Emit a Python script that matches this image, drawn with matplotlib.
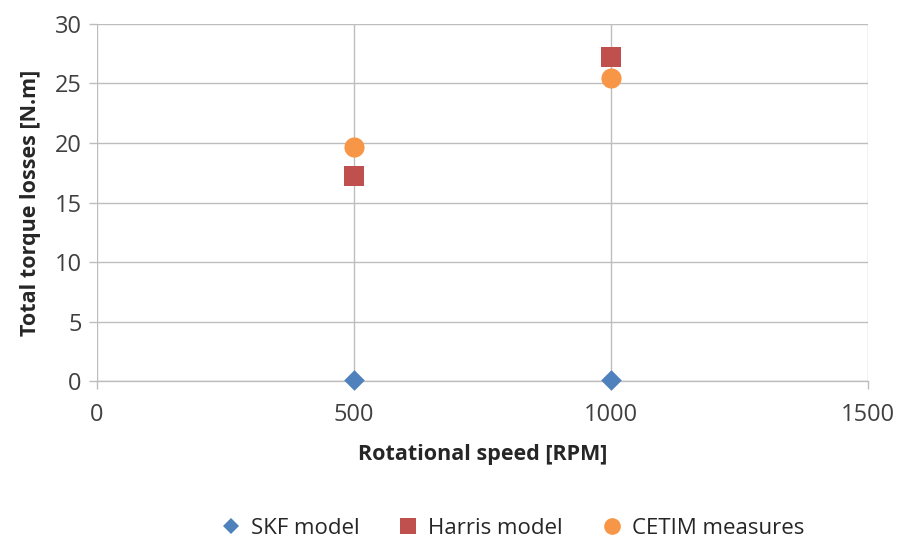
import matplotlib
matplotlib.use("Agg")
import matplotlib.pyplot as plt
from matplotlib.lines import Line2D

plt.rcParams['font.family'] = ['Open Sans', 'DejaVu Sans']

# Data
vitesse = [500, 1000]
skf = [0.05, 0.05]
harris = [17.2, 27.2]
cetim = [19.7, 25.5]

xTicks = [0, 500, 1000, 1500]
yTicks = [0, 5, 10, 15, 20, 25, 30]

corGrid = '#BDBDBD'

fig = plt.figure(figsize=(8.98, 5.40), dpi=100)
ax = fig.add_axes([0.108, 0.2944, 0.8586, 0.6612])

ax.scatter(vitesse, skf, marker='D', s=10.5**2, color='#4F81BD', zorder=3, label='SKF model', linewidths=0, clip_on=False)
ax.scatter(vitesse, harris, marker='s', s=15**2, color='#C0504D', zorder=3, label='Harris model', linewidths=0, clip_on=False)
ax.scatter(vitesse, cetim, marker='o', s=14.5**2, color='#F79646', zorder=4, label='CETIM measures', linewidths=0, clip_on=False)

ax.set_xlim(0, 1500)
ax.set_ylim(0, 30)
ax.set_xticks(xTicks)
ax.set_yticks(yTicks)
ax.grid(True, color=corGrid, linewidth=1)
ax.set_axisbelow(True)

for lado in ['top', 'right', 'left']:
    ax.spines[lado].set_visible(False)
ax.spines['bottom'].set_color(corGrid)
ax.spines['bottom'].set_linewidth(1)
ax.tick_params(axis='both', colors=corGrid, length=6, width=1, labelsize=17, labelcolor='#404040')
ax.tick_params(axis='x', pad=10)
ax.tick_params(axis='y', pad=5)

ax.set_xlabel('Rotational speed [RPM]', fontsize=15.5, fontweight='bold', color='#262626', labelpad=12)
ax.set_ylabel('Total torque losses [N.m]', fontsize=15.5, fontweight='bold', color='#262626', labelpad=10)

handles = [
    Line2D([], [], marker='D', linestyle='none', markersize=8, color='#4F81BD', markeredgewidth=0),
    Line2D([], [], marker='s', linestyle='none', markersize=12, color='#C0504D', markeredgewidth=0),
    Line2D([], [], marker='o', linestyle='none', markersize=12, color='#F79646', markeredgewidth=0),
]
fig.legend(handles, ['SKF model', 'Harris model', 'CETIM measures'], loc='center',
           bbox_to_anchor=(0.569, 0.022), ncol=3, frameon=False, fontsize=16,
           handletextpad=0.3, columnspacing=1.6, handlelength=1.2,
           labelcolor='#262626')

fig.savefig('out.png', dpi=100, facecolor='white')
